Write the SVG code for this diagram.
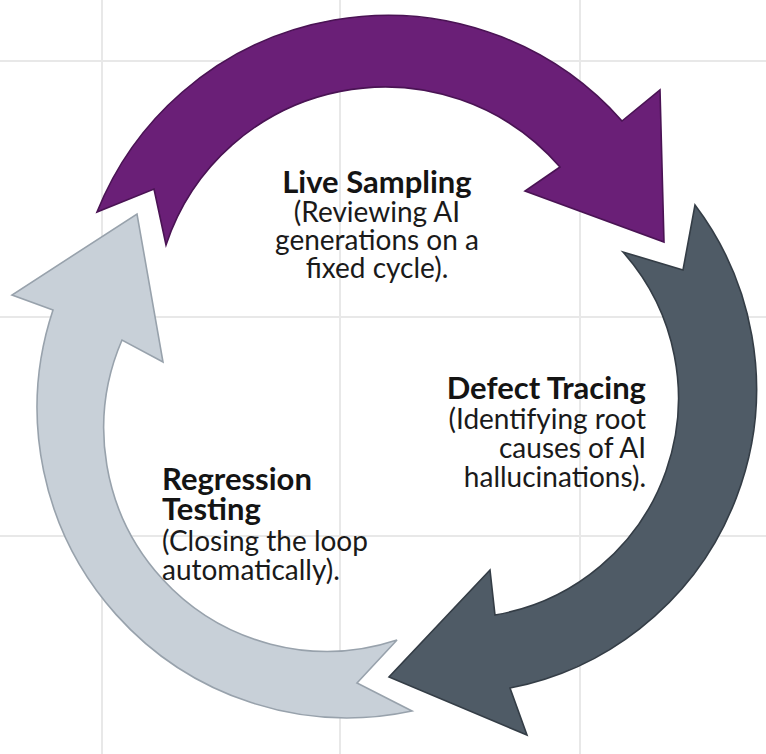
<svg xmlns="http://www.w3.org/2000/svg" width="766" height="754" viewBox="0 0 766 754">
  <style>
    .grid { stroke: #e8e8e8; stroke-width: 2; fill: none; }
    .arrow { stroke-width: 1.6; stroke-linejoin: miter; }
    .purple { fill: #6a1f77; stroke: #4a1354; }
    .slate { fill: #4f5b66; stroke: #343d46; }
    .light { fill: #c8d0d8; stroke: #98a2ac; }
    .title { font-family: Lato, "Liberation Sans", sans-serif; font-weight: 700; font-size: 31px; fill: #141414; }
    .body { font-family: Lato, "Liberation Sans", sans-serif; font-weight: 400; font-size: 28px; fill: #1a1a1a; }
  </style>
  <rect width="766" height="754" fill="#ffffff"/>
  <g id="grid">
    <line class="grid" x1="102" y1="0" x2="102" y2="754"/>
    <line class="grid" x1="340" y1="0" x2="340" y2="754"/>
    <line class="grid" x1="580" y1="0" x2="580" y2="754"/>
    <line class="grid" x1="0" y1="61" x2="766" y2="61"/>
    <line class="grid" x1="0" y1="317" x2="766" y2="317"/>
    <line class="grid" x1="0" y1="536" x2="766" y2="536"/>
  </g>
  <g id="connectors">
    <path id="arrow-regression" class="arrow light" d="M412,711 A310,310 0 0 1 53,310 L12,295 L137,214 L163,362 L122,340 A223,223 0 0 0 397,640 L357,683 Z"/>
    <path id="arrow-defect" class="arrow slate" d="M695,205 A305,305 0 0 1 510,688 L527,735 L389,677 L490,570 L495,615 A220,220 0 0 0 623,252 L683,270 Z"/>
    <path id="arrow-sampling" class="arrow purple" d="M97,212 A313,313 0 0 1 622,121 L660,90 L664,242 L525,191 L560,167 A231,231 0 0 0 166,245 L154,189 Z"/>
  </g>
  <g id="node-live-sampling">
    <text class="title" x="377" y="193" text-anchor="middle">Live Sampling</text>
    <text class="body" x="377" y="222" text-anchor="middle">(Reviewing AI</text>
    <text class="body" x="377" y="250" text-anchor="middle">generations on a</text>
    <text class="body" x="377" y="278" text-anchor="middle">fixed cycle).</text>
  </g>
  <g id="node-defect-tracing">
    <text class="title" x="646" y="399" text-anchor="end">Defect Tracing</text>
    <text class="body" x="646" y="429" text-anchor="end">(Identifying root</text>
    <text class="body" x="646" y="458" text-anchor="end">causes of AI</text>
    <text class="body" x="646" y="487" text-anchor="end">hallucinations).</text>
  </g>
  <g id="node-regression-testing">
    <text class="title" x="162" y="490">Regression</text>
    <text class="title" x="162" y="520">Testing</text>
    <text class="body" x="162" y="551">(Closing the loop</text>
    <text class="body" x="162" y="580">automatically).</text>
  </g>
</svg>
